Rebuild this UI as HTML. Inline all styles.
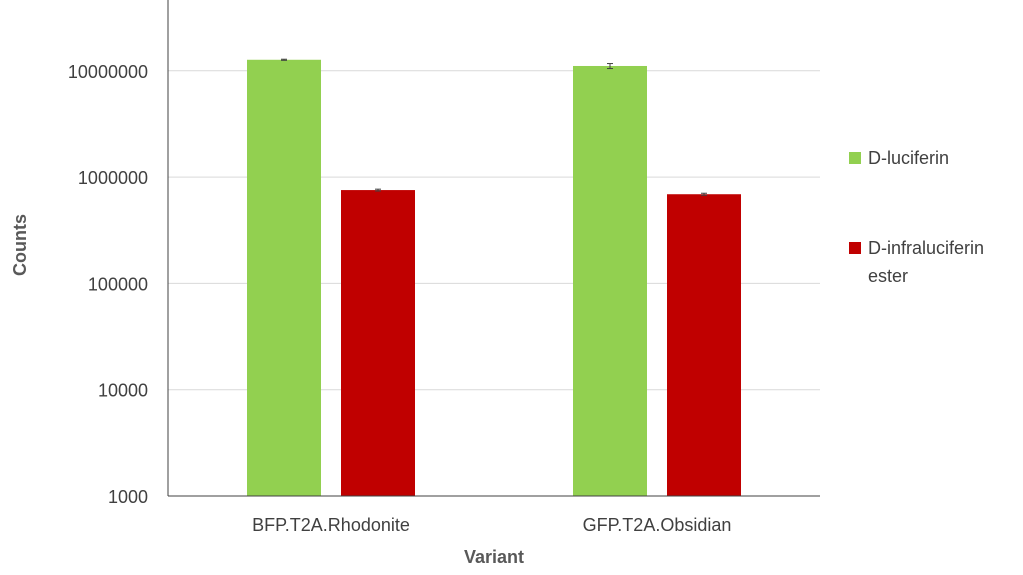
<!DOCTYPE html>
<html><head><meta charset="utf-8"><style>
body{margin:0;background:#fff;}
svg{display:block;font-family:"Liberation Sans",Arial,sans-serif;}
</style></head><body>
<svg id="chart" width="1023" height="575">
<g id="grid"></g>
<g id="bars"></g>
<g id="axes"></g>
<text x="26" y="245" transform="rotate(-90 26 245)" text-anchor="middle" font-size="18" font-weight="bold" fill="#595959">Counts</text>
<text x="494" y="563" text-anchor="middle" font-size="18" font-weight="bold" fill="#595959">Variant</text>
<g>
<g><rect x="849" y="152" width="12" height="12" fill="#92d050"/><text x="868" y="164" font-size="18" fill="#404040">D-luciferin</text></g>
<g><rect x="849" y="242" width="12" height="12" fill="#c00000"/><text x="868" y="254" font-size="18" fill="#404040">D-infraluciferin</text><text x="868" y="282" font-size="18" fill="#404040">ester</text></g>
</g>
</svg>
<script>
const categories=["BFP.T2A.Rhodonite","GFP.T2A.Obsidian"];
const seriesNames=["D-luciferin","D-infraluciferin ester"];
const lucValues=[12700000,11100000];
const infraValues=[755000,690000];
const lucErrors=[150000,600000];
const infraErrors=[15000,15000];
const yTicks=[1000,10000,100000,1000000,10000000];
const tickLabels=["1000","10000","100000","1000000","10000000"];
const NS="http://www.w3.org/2000/svg";
const X0=168,X1=820,Ybot=496,dec=106.3;
function y(v){return Ybot-(Math.log10(v)-3)*dec;}
const groupW=(X1-X0)/categories.length;
function xc(i){return X0+groupW*(i+0.5);}
function mk(tag,attrs,parent){const e=document.createElementNS(NS,tag);for(const k in attrs)e.setAttribute(k,attrs[k]);parent.appendChild(e);return e;}
const grid=document.getElementById('grid'),bars=document.getElementById('bars'),axes=document.getElementById('axes');
yTicks.forEach((t,i)=>{
 if(i>0){const l=mk('line',{x1:X0,x2:X1,y1:y(t),y2:y(t),stroke:'#d9d9d9','stroke-width':1},grid);
 
 }
 const tx=mk('text',{x:148,y:y(t)+7,'text-anchor':'end','font-size':18,fill:'#404040'},axes);
 tx.textContent=tickLabels[i];
 
 
});
const bw=74,off=47;
const colors=['#92d050','#c00000'];
[lucValues,infraValues].forEach((vals,s)=>{
 const errs=s===0?lucErrors:infraErrors;
 vals.forEach((v,i)=>{
  const cx=xc(i)+(s===0?-off:off);
  const r=mk('rect',{x:cx-bw/2,y:y(v),width:bw,height:Ybot-y(v),fill:colors[s]},bars);
  
  
  const e=errs[i];
  const g=mk('g',{stroke:'#404040','stroke-width':1},bars);
  
  
  mk('line',{x1:cx,x2:cx,y1:y(v+e),y2:y(v-e)},g);
  mk('line',{x1:cx-3,x2:cx+3,y1:y(v+e),y2:y(v+e)},g);
  mk('line',{x1:cx-3,x2:cx+3,y1:y(v-e),y2:y(v-e)},g);
 });
});
const ya=mk('line',{x1:X0,x2:X0,y1:0,y2:Ybot,stroke:'#404040','stroke-width':1},axes);


const xa=mk('line',{x1:X0,x2:X1,y1:Ybot,y2:Ybot,stroke:'#404040','stroke-width':1},axes);


categories.forEach((c,i)=>{
 const t=mk('text',{x:xc(i),y:531,'text-anchor':'middle','font-size':18,fill:'#404040'},axes);
 t.textContent=c;
 
 
});
</script>
</body></html>
